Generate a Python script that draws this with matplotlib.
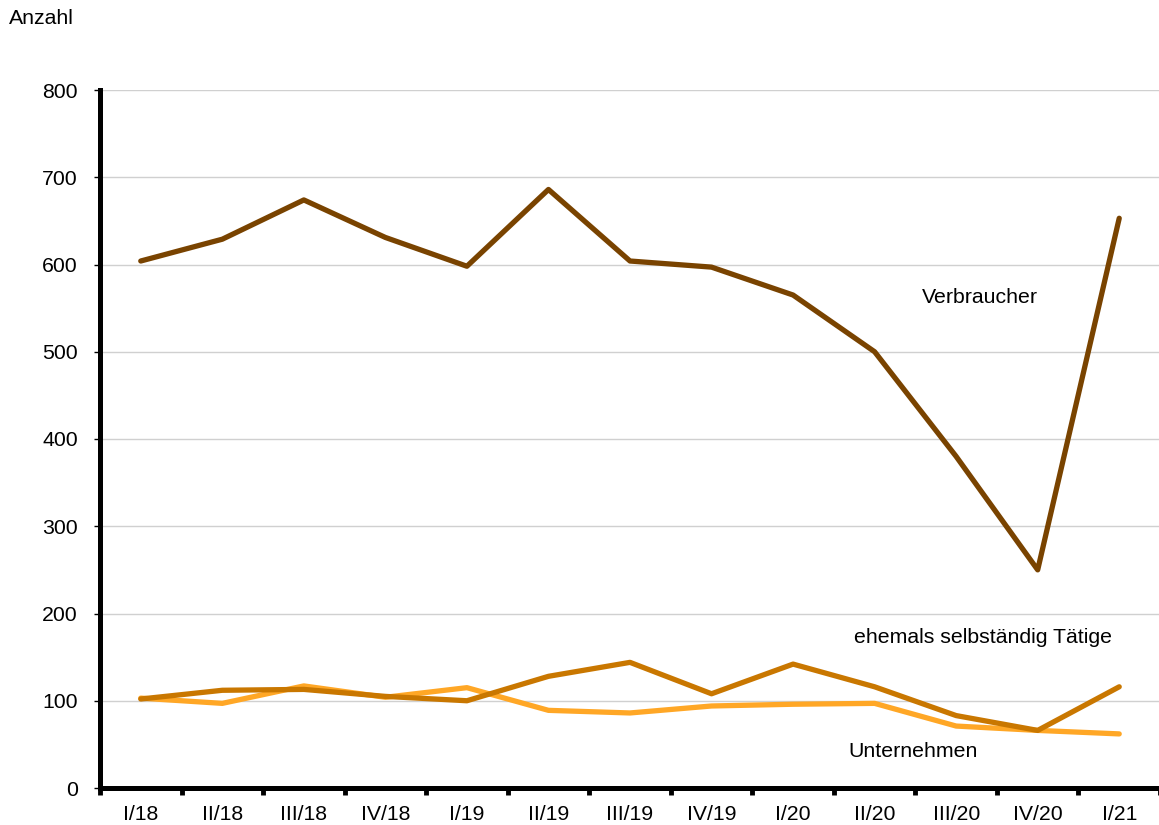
import matplotlib
matplotlib.use("Agg")
import matplotlib.pyplot as plt
import numpy as np

plt.rcParams['font.family'] = ['Liberation Sans', 'DejaVu Sans']

quarters = ["I/18", "II/18", "III/18", "IV/18", "I/19", "II/19", "III/19",
            "IV/19", "I/20", "II/20", "III/20", "IV/20", "I/21"]
verbraucher = [604, 629, 674, 631, 598, 686, 604, 597, 565, 500, 380, 250, 653]
ehemals = [102, 112, 113, 105, 100, 128, 144, 108, 142, 116, 83, 66, 116]
unternehmen = [103, 97, 117, 104, 115, 89, 86, 94, 96, 97, 71, 66, 62]

FS = 15.3

fig = plt.figure(figsize=(11.59, 8.25), dpi=100)
ax = fig.add_axes([100/1159, 37/825, 1060/1159, 698/825])

x = np.arange(len(quarters))
ax.plot(x, unternehmen, color="#ffa726", lw=3.8, solid_capstyle='round', zorder=3)
ax.plot(x, ehemals, color="#c97700", lw=3.8, solid_capstyle='round', zorder=4)
ax.plot(x, verbraucher, color="#794300", lw=3.8, solid_capstyle='round', zorder=5)

ax.set_xlim(-0.5, len(quarters) - 0.5)
ax.set_ylim(0, 800)
ax.set_yticks(np.arange(0, 801, 100))
ax.yaxis.grid(True, color="#d0d0d0", lw=1)
ax.set_axisbelow(True)

ax.set_xticks(x)
ax.set_xticklabels(quarters, fontsize=FS)
ax.set_xticks(np.arange(-0.5, len(quarters), 1), minor=True)
ax.tick_params(axis='x', which='major', length=0, pad=12)
ax.tick_params(axis='x', which='minor', length=5, width=3.5, direction='out')
ax.tick_params(axis='y', length=4, width=1, labelsize=FS, pad=12)

for s in ['top', 'right']:
    ax.spines[s].set_visible(False)
ax.spines['left'].set_linewidth(3.6)
ax.spines['bottom'].set_linewidth(3.6)

ax.text(10.29, 562, "Verbraucher", fontsize=FS, ha='center', va='center')
ax.text(10.33, 172, "ehemals selbständig Tätige", fontsize=FS, ha='center', va='center')
ax.text(9.47, 42, "Unternehmen", fontsize=FS, ha='center', va='center')

fig.text(9/1159, 1 - 18/825, "Anzahl", fontsize=FS, ha='left', va='center')

fig.savefig("out.png", dpi=100)
